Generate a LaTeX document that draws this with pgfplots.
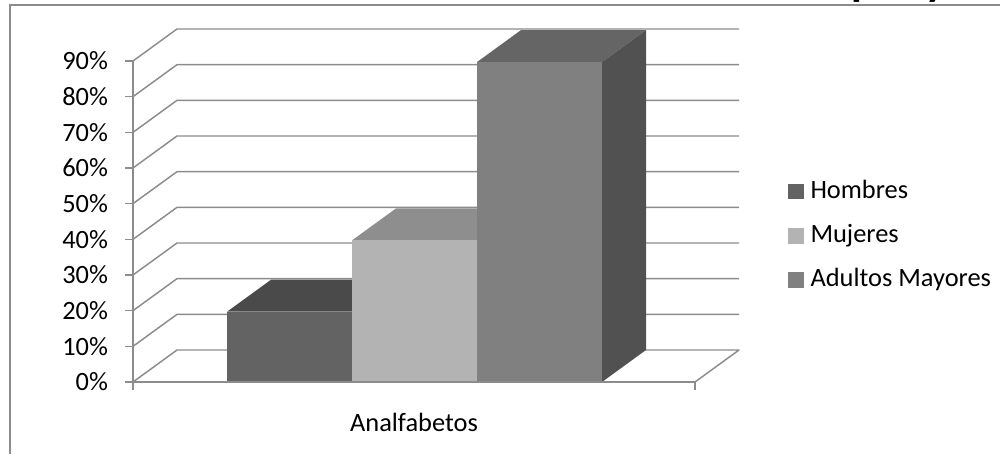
\documentclass[border=0pt]{standalone}
\usepackage{pgfplots}
\pgfplotsset{compat=1.18}
\usepackage{fontspec}
\setmainfont{Carlito}
\definecolor{fr}{HTML}{8C8C8C}
\definecolor{hf}{HTML}{636363}
\definecolor{ht}{HTML}{4A4A4A}
\definecolor{mf}{HTML}{B3B3B3}
\definecolor{mt}{HTML}{8E8E8E}
\definecolor{af}{HTML}{808080}
\definecolor{at}{HTML}{656565}
\definecolor{as}{HTML}{515151}
\begin{document}
\begin{tikzpicture}[x=0.75pt,y=0.75pt]
\path[use as bounding box] (0,0) rectangle (1000,454);
\draw[fr,line width=1.5pt] (9.5,0) -- (9.5,449) -- (1000,449);
\begin{scope}
\clip (840,454) rectangle (960,451);
\node[anchor=base west,font=\bfseries\fontsize{33}{33}\selectfont,inner sep=0pt] at (851,458) {p};
\node[anchor=base west,font=\bfseries\fontsize{33}{33}\selectfont,inner sep=0pt] at (925,458) {y};
\end{scope}
\begin{axis}[
  at={(99.75pt,54pt)},anchor=south west,
  scale only axis,width=454.5pt,height=264.75pt,
  xmin=0,xmax=606,ymin=0,ymax=98.97,
  clip=false,
  axis line style={draw=none},
  ytick={0,10,...,90},
  yticklabel={\pgfmathprintnumber{\tick}\%},
  /pgf/number format/assume math mode=true,
  xtick={0,562},xticklabels={,},
  extra x ticks={281},
  extra x tick labels={Analfabetos},
  extra x tick style={major tick length=0pt,xticklabel style={yshift=-20pt}},
  tick align=outside,tick pos=left,major tick length=6pt,
  tick style={fr,line width=1.1pt},
  every tick label/.append style={font=\fontsize{19.8}{21}\selectfont,text=black},
  yticklabel style={xshift=-9.25pt},
  legend style={at={(axis cs:655,57.6)},anchor=north west,draw=none,fill=none,
    font=\fontsize{19.8}{21}\selectfont,row sep=11.2pt,
    nodes={text height=14pt,text depth=4pt},
    inner sep=0pt,/tikz/every odd column/.append style={column sep=3.5pt}},
  legend cell align=left,
  every axis plot/.append style={line join=round},
]
% axis line and walls
\addplot[fr,line width=1.1pt,forget plot] coordinates {(0,0)(0,90)};
\addplot[fr,line width=1.1pt,forget plot] coordinates {(0,0)(44,8.97)(606,8.97)(562,0)(0,0)};
\addplot[fr,line width=1.1pt,forget plot] coordinates {(0,10)(44,18.97)(606,18.97)};
\addplot[fr,line width=1.1pt,forget plot] coordinates {(0,20)(44,28.97)(606,28.97)};
\addplot[fr,line width=1.1pt,forget plot] coordinates {(0,30)(44,38.97)(606,38.97)};
\addplot[fr,line width=1.1pt,forget plot] coordinates {(0,40)(44,48.97)(606,48.97)};
\addplot[fr,line width=1.1pt,forget plot] coordinates {(0,50)(44,58.97)(606,58.97)};
\addplot[fr,line width=1.1pt,forget plot] coordinates {(0,60)(44,68.97)(606,68.97)};
\addplot[fr,line width=1.1pt,forget plot] coordinates {(0,70)(44,78.97)(606,78.97)};
\addplot[fr,line width=1.1pt,forget plot] coordinates {(0,80)(44,88.97)(606,88.97)};
\addplot[fr,line width=1.1pt,forget plot] coordinates {(0,90)(44,98.97)(606,98.97)};
% Hombres, 20%
\addplot[fill=ht,draw=none,forget plot] coordinates {(94,19.7)(138,28.67)(263,28.67)(219,19.7)} --cycle;
\addplot[fill=hf,draw=none,forget plot] coordinates {(94,0)(94,19.7)(219,19.7)(219,0)} --cycle;
% Mujeres, 40%
\addplot[fill=mt,draw=none,forget plot] coordinates {(219,39.7)(263,48.67)(388,48.67)(344,39.7)} --cycle;
\addplot[fill=mf,draw=none,forget plot] coordinates {(219,0)(219,39.7)(344,39.7)(344,0)} --cycle;
% Adultos Mayores, 90%
\addplot[fill=at,draw=none,forget plot] coordinates {(344,89.7)(388,98.67)(513,98.67)(469,89.7)} --cycle;
\addplot[fill=as,draw=none,forget plot] coordinates {(469,0)(469,89.7)(513,98.67)(513,8.97)} --cycle;
\addplot[fill=af,draw=none,forget plot] coordinates {(344,0)(344,89.7)(469,89.7)(469,0)} --cycle;
\addplot[fr,line width=1.1pt,forget plot] coordinates {(0,0)(562,0)};
\addlegendimage{only marks,mark=square*,mark size=5.6pt,mark options={draw=hf,fill=hf,line width=0pt}}
\addlegendentry{Hombres}
\addlegendimage{only marks,mark=square*,mark size=5.6pt,mark options={draw=mf,fill=mf,line width=0pt}}
\addlegendentry{Mujeres}
\addlegendimage{only marks,mark=square*,mark size=5.6pt,mark options={draw=af,fill=af,line width=0pt}}
\addlegendentry{Adultos Mayores}
\end{axis}
\end{tikzpicture}
\end{document}
